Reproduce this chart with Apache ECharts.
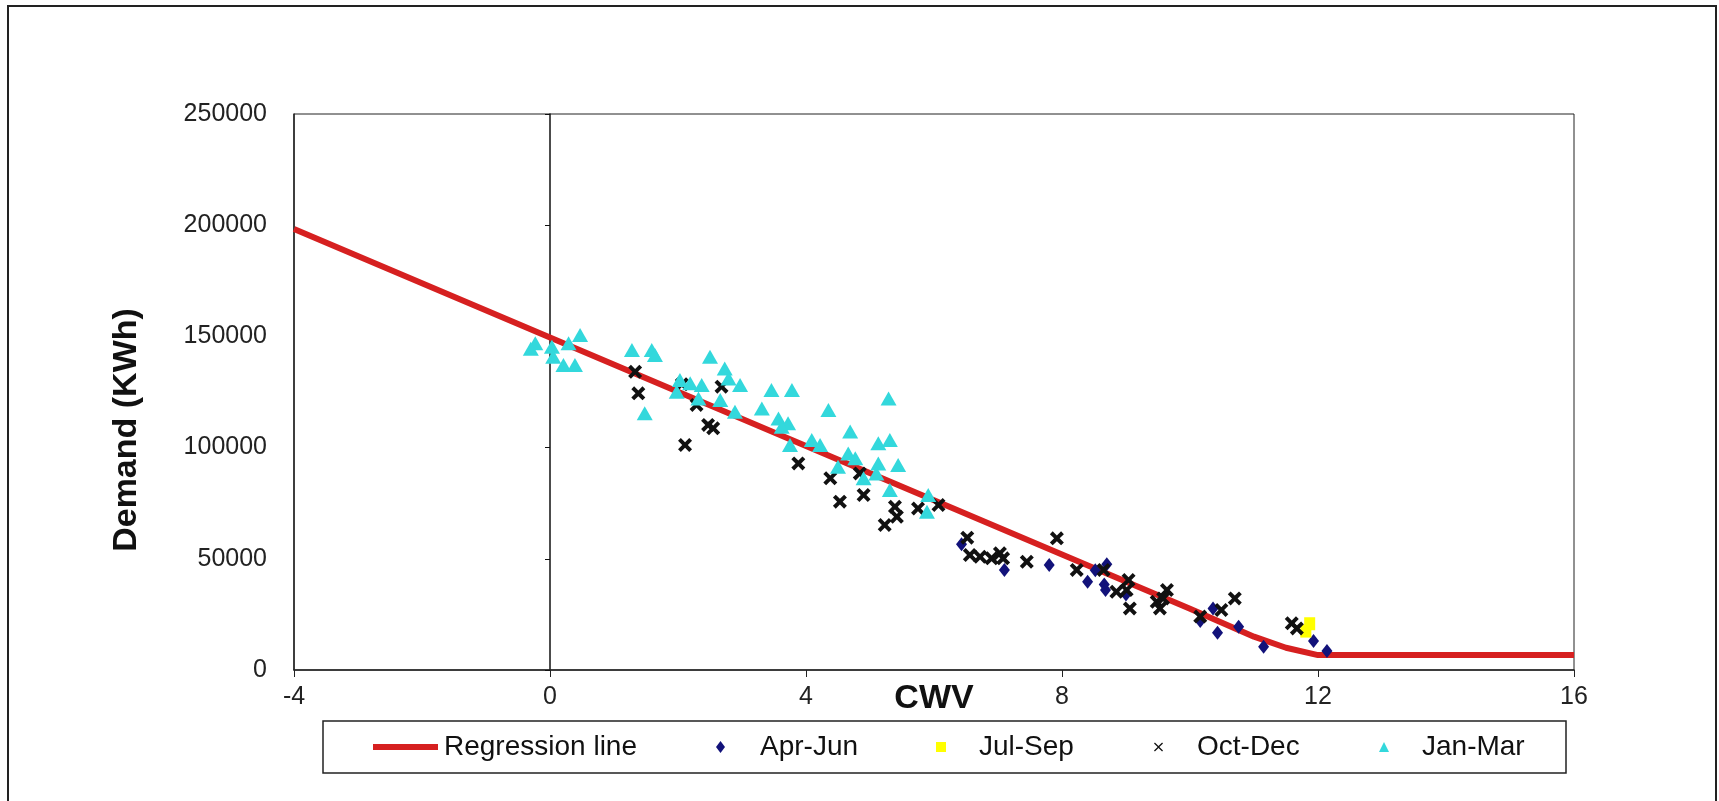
<!DOCTYPE html>
<html>
<head>
<meta charset="utf-8">
<script src="https://cdn.jsdelivr.net/npm/echarts@6/dist/echarts.min.js"></script>
<style>
html,body{margin:0;padding:0;background:#fff;}
#c{width:1719px;height:801px;}
</style>
</head>
<body>
<div id="c"></div>
<script>
// ---- data ----
var xTicks = [-4, 0, 4, 8, 12, 16];
var yTicks = [0, 50000, 100000, 150000, 200000, 250000];

var regX = [-4, 0, 4, 8, 10, 11, 11.5, 12, 16];
var regY = [198300, 149500, 100700, 51900, 27500, 15000, 10000, 6700, 6700];

var aprJun = [
  [6.43, 56500], [7.1, 45000], [7.8, 47200], [8.4, 39700], [8.52, 44800], [8.7, 47500],
  [8.66, 38500], [8.68, 36000], [9.0, 34000], [10.16, 22000], [10.36, 27700], [10.43, 16800],
  [10.76, 19500], [11.15, 10500], [11.93, 13000], [12.14, 8500]
];
var julSep = [[11.87, 20800], [11.81, 17500]];
var octDec = [
  [1.33, 134100], [1.38, 124400], [2.11, 101200], [2.06, 128500], [2.29, 119200], [2.47, 110200],
  [2.55, 108700], [2.68, 127400], [3.88, 92900], [4.38, 86200], [4.53, 75700], [4.84, 88400],
  [4.9, 78700], [5.23, 65200], [5.39, 73400], [5.42, 68900], [5.75, 72600], [6.07, 74200],
  [6.52, 59500], [6.56, 51700], [6.72, 50900], [6.9, 50200], [7.03, 52500], [7.08, 50200],
  [7.45, 48700], [7.92, 59200], [8.23, 45000], [8.65, 45000], [8.85, 35200], [9.04, 40500],
  [9.01, 36000], [9.06, 27700], [9.48, 30700], [9.53, 27700], [9.64, 36000], [9.58, 32200],
  [10.16, 24000], [10.49, 27000], [10.7, 32200], [11.59, 21000], [11.67, 18700]
];
var janMar = [
  [-0.23, 146900], [-0.3, 144500], [0.03, 145400], [0.05, 140900], [0.21, 137100], [0.39, 137100],
  [0.29, 146900], [0.47, 150600], [1.28, 143900], [1.59, 143900], [1.64, 141600], [1.48, 115400],
  [2.5, 140900], [2.73, 135600], [2.79, 131100], [2.97, 128100], [2.03, 130400], [2.19, 128900],
  [2.37, 128100], [1.98, 125100], [2.32, 122100], [2.66, 121400], [2.89, 116100], [3.46, 125900],
  [3.78, 125900], [3.31, 117600], [3.57, 113100], [3.72, 110900], [3.62, 109400], [3.75, 101200],
  [4.35, 116900], [5.29, 122100], [4.09, 103400], [4.22, 101200], [4.69, 107200], [5.13, 101900],
  [5.31, 103400], [4.66, 97400], [4.77, 95200], [4.5, 91400], [5.13, 92900], [5.44, 92200],
  [4.9, 86200], [5.1, 88400], [5.31, 80900], [5.91, 78700], [5.89, 71200]
];

// ---- chart ----
var FONT = '"Liberation Sans", Arial, sans-serif';
var regData = regX.map(function (x, i) { return [x, regY[i]]; });
var crossBold = 'path://M2,0L5,3L8,0L10,2L7,5L10,8L8,10L5,7L2,10L0,8L3,5L0,2Z';
var crossThin = 'path://M1,0L5,4L9,0L10,1L6,5L10,9L9,10L5,6L1,10L0,9L4,5L0,1Z';
var RED = '#d62020', NAVY = '#12127a', YEL = '#ffff00', CYAN = '#33d8dc', BLK = '#111111';

function leg(name, icon, left, w, h, pad) {
  return {
    data: [{ name: name, icon: icon }],
    left: left, top: 733, padding: 0,
    itemWidth: w, itemHeight: h,
    selectedMode: false,
    textStyle: { fontFamily: FONT, fontSize: 28, color: '#111', padding: [0, 0, 0, pad] }
  };
}

var chart = echarts.init(document.getElementById('c'), null, { renderer: 'canvas' });
chart.setOption({
  animation: false,
  backgroundColor: '#ffffff',
  textStyle: { fontFamily: FONT },
  graphic: [
    { type: 'rect', shape: { x: 8, y: 6, width: 1708, height: 800 }, style: { fill: 'none', stroke: '#222', lineWidth: 2 }, z: 0 },
    { type: 'rect', shape: { x: 323, y: 721, width: 1243, height: 52 }, style: { fill: '#fff', stroke: '#222', lineWidth: 1.5 }, z: 0 },
    { type: 'text', x: 127, y: 430, rotation: Math.PI / 2,
      style: { text: 'Demand (KWh)', fontFamily: FONT, fontSize: 34, fontWeight: 'bold', fill: '#111', align: 'center', verticalAlign: 'middle' } },
    { type: 'text', x: 934, y: 699,
      style: { text: 'CWV', fontFamily: FONT, fontSize: 34, fontWeight: 'bold', fill: '#111', align: 'center', verticalAlign: 'middle' } }
  ],
  grid: { left: 294, right: 145, top: 114, bottom: 131, show: true, borderColor: '#222', borderWidth: 1, backgroundColor: '#fff' },
  legend: [
    leg('Regression line', 'rect', 373, 65, 6, 1),
    leg('Apr-Jun', 'diamond', 716, 9, 12, 30),
    leg('Jul-Sep', 'rect', 936, 10, 10, 28),
    leg('Oct-Dec', crossThin, 1154, 9, 9, 29),
    leg('Jan-Mar', 'triangle', 1379, 10, 10, 28)
  ],
  xAxis: {
    type: 'value', min: xTicks[0], max: xTicks[xTicks.length - 1], interval: 4,
    axisLine: { show: true, onZero: false, lineStyle: { color: '#222', width: 1.5 } },
    axisTick: { show: true, length: 7, lineStyle: { color: '#222' } },
    axisLabel: { fontFamily: FONT, fontSize: 25, color: '#222', margin: 15 },
    splitLine: { show: false }
  },
  yAxis: [
    {
      type: 'value', min: yTicks[0], max: yTicks[yTicks.length - 1], interval: 50000,
      axisLine: { show: true, onZero: false, lineStyle: { color: '#222', width: 1.5 } },
      axisTick: { show: false },
      axisLabel: { fontFamily: FONT, fontSize: 25, color: '#222', margin: 27,
        formatter: function (v) { return String(v); } },
      splitLine: { show: false }
    },
    {
      type: 'value', min: yTicks[0], max: yTicks[yTicks.length - 1], interval: 50000, position: 'left',
      axisLine: { show: true, onZero: true, lineStyle: { color: '#111', width: 1.5 } },
      axisTick: { show: true, length: 5, lineStyle: { color: '#111' } },
      axisLabel: { show: false },
      splitLine: { show: false }
    }
  ],
  series: [
    { name: 'Regression line', type: 'line', data: regData, showSymbol: false, symbol: 'none',
      lineStyle: { color: RED, width: 6 }, itemStyle: { color: RED }, z: 2 },
    { name: 'Apr-Jun', type: 'scatter', data: aprJun, symbol: 'diamond', symbolSize: [11, 14],
      itemStyle: { color: NAVY, opacity: 1 }, z: 3 },
    { name: 'Jul-Sep', type: 'scatter', data: julSep, symbol: 'rect', symbolSize: [11, 13],
      itemStyle: { color: YEL, opacity: 1 }, z: 3 },
    { name: 'Oct-Dec', type: 'scatter', data: octDec, symbol: crossBold, symbolSize: 14,
      itemStyle: { color: BLK, opacity: 1 }, z: 4 },
    { name: 'Jan-Mar', type: 'scatter', data: janMar, symbol: 'triangle', symbolSize: [16, 14],
      itemStyle: { color: CYAN, opacity: 1 }, z: 5 }
  ]
});
</script>
</body>
</html>
